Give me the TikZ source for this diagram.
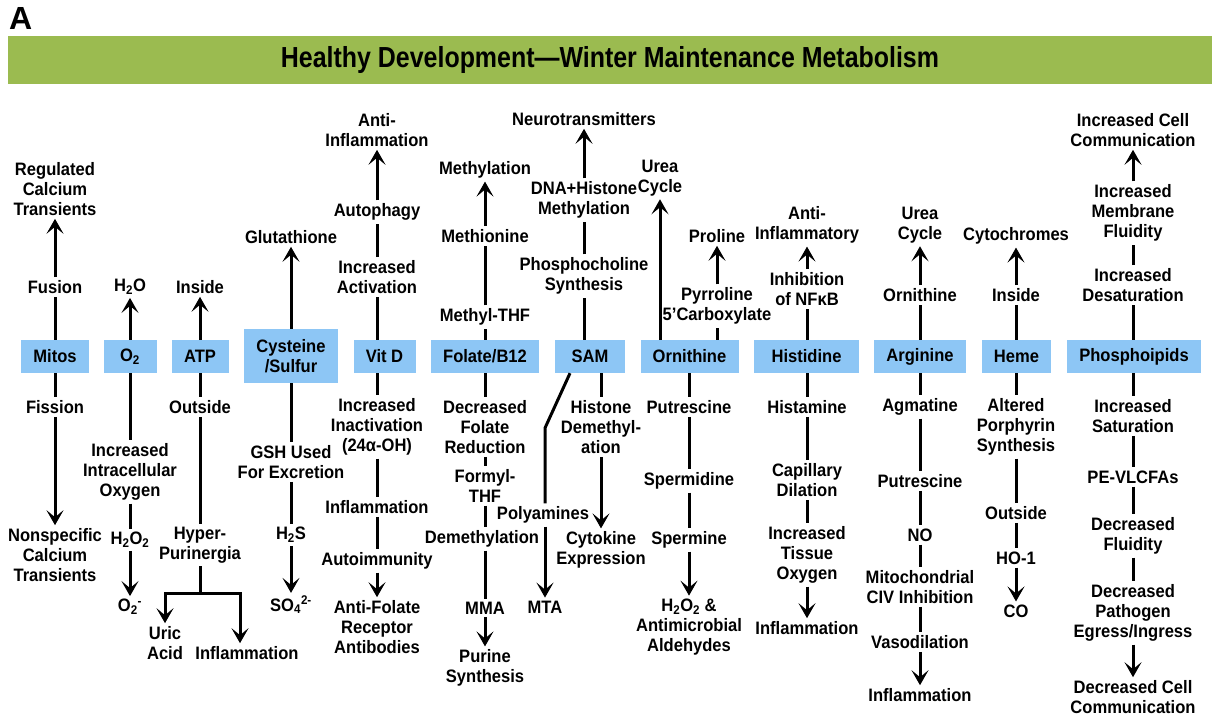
\documentclass[tikz,border=0pt]{standalone}
\usepackage{fontspec}
\setmainfont[FakeStretch=0.92]{Liberation Sans}
\newfontfamily\titlefont[FakeStretch=0.86]{Liberation Sans}
\newfontfamily\plainfont{Liberation Sans}
\usetikzlibrary{arrows.meta,calc}
\definecolor{barg}{RGB}{155,187,80}
\definecolor{boxblue}{RGB}{141,198,245}
\tikzset{
  lbl/.style={font=\fontsize{18}{20}\selectfont\bfseries, align=center, inner xsep=1pt, inner ysep=3pt},
  bx/.style={fill=boxblue, minimum height=33pt, inner sep=0pt, align=center, font=\fontsize{18}{20}\selectfont\bfseries},
  ln/.style={line width=3pt},
  arr/.style={line width=3pt, -{Stealth[length=15pt,width=17pt,inset=7pt]}}
}
\begin{document}
\begin{tikzpicture}[x=1pt,y=-1pt]
\useasboundingbox (0,0) rectangle (1212,719);
\node[font=\fontsize{32}{32}\selectfont\plainfont\bfseries, anchor=base west, inner sep=0pt] (lblA) at (9,30) {A};
\node[fill=barg, minimum width=1204pt, minimum height=48pt, inner sep=0pt, font=\fontsize{29}{30}\selectfont\titlefont\bfseries] (title) at (610,60) {Healthy Development—Winter Maintenance Metabolism};

% Mitos
\node[bx, minimum width=68pt] (mitos) at (55,356.5) {Mitos};
\node[lbl] (fusion) at (55,287) {Fusion};
\node[lbl] (regc) at (55,189) {Regulated\\Calcium\\Transients};
\node[lbl] (fission) at (55,407) {Fission};
\node[lbl] (nonspec) at (55,555) {Nonspecific\\Calcium\\Transients};
\draw[ln] (mitos) -- (fusion); \draw[arr] (fusion) -- (regc);
\draw[ln] (mitos) -- (fission); \draw[arr] (fission) -- (nonspec);

% O2
\node[bx, minimum width=53pt] (o2) at (130,356.5) {O\textsubscript{2}};
\node[lbl] (h2o) at (130,287) {H\textsubscript{2}O};
\node[lbl] (incox) at (130,472) {Increased\\Intracellular\\Oxygen};
\node[lbl] (h2o2) at (130,540) {H\textsubscript{2}O\textsubscript{2}};
\node[lbl] (o2m) at (130,607) {O\textsubscript{2}\textsuperscript{-}};
\draw[arr] (o2) -- (h2o);
\draw[ln] (o2) -- (incox); \draw[ln] (incox) -- (h2o2); \draw[arr] (h2o2) -- (o2m);

% ATP
\node[bx, minimum width=57pt] (atp) at (200,356.5) {ATP};
\node[lbl] (inside) at (200,287) {Inside};
\node[lbl] (outside) at (200,407) {Outside};
\node[lbl] (hyper) at (200,545) {Hyper-\\Purinergia};
\coordinate (fork) at (200,593);
\node[lbl] (uric) at (165,643) {Uric\\Acid};
\node[lbl] (infla) at (247,653) {Inflammation};
\draw[arr] (atp) -- (inside);
\draw[ln] (atp) -- (outside); \draw[ln] (outside) -- (hyper);
\draw[ln] (hyper) -- (fork);
\draw[arr] (fork) -| (uric);
\draw[arr] (fork) -| ([xshift=-7pt]infla.north);

% Cysteine
\node[bx, minimum width=94pt, minimum height=54pt] (cys) at (291,356) {Cysteine\\/Sulfur};
\node[lbl] (glut) at (291,237) {Glutathione};
\node[lbl] (gsh) at (291,462) {GSH Used\\For Excretion};
\node[lbl] (h2s) at (291,535) {H\textsubscript{2}S};
\node[lbl] (so4) at (291,605) {SO\textsubscript{4}\textsuperscript{2-}};
\draw[arr] (cys) -- (glut);
\draw[ln] (cys) -- (gsh); \draw[ln] (gsh) -- (h2s); \draw[arr] (h2s) -- (so4);

% Vit D
\node[bx, minimum width=62pt] (vitd) at (384.5,356.5) {Vit D};
\node[lbl] (antiinf) at (377,130) {Anti-\\Inflammation};
\node[lbl] (autoph) at (377,212) {Autophagy};
\node[lbl] (incact) at (377,277) {Increased\\Activation};
\node[lbl] (incinact) at (377,427) {Increased\\Inactivation\\(24α-OH)};
\node[lbl] (inflb) at (377,507) {Inflammation};
\node[lbl] (autoim) at (377,561) {Autoimmunity};
\node[lbl] (antifol) at (377,627) {Anti-Folate\\Receptor\\Antibodies};
\draw[ln] (incact |- vitd.north) -- (incact); \draw[ln] (incact) -- (autoph); \draw[arr] (autoph) -- (antiinf);
\draw[ln] (incinact |- vitd.south) -- (incinact); \draw[ln] (incinact) -- (inflb); \draw[ln] (inflb) -- (autoim); \draw[arr] (autoim) -- (antifol);

% Folate
\node[bx, minimum width=108pt] (folate) at (485,356.5) {Folate/B12};
\node[lbl] (methyl) at (485,170) {Methylation};
\node[lbl] (methio) at (485,236) {Methionine};
\node[lbl] (mthf) at (485,317) {Methyl-THF};
\node[lbl] (decf) at (485,427) {Decreased\\Folate\\Reduction};
\node[lbl] (formyl) at (485,486) {Formyl-\\THF};
\node[lbl] (demeth) at (482,539) {Demethylation};
\node[lbl] (mma) at (485,608) {MMA};
\node[lbl] (purine) at (485,668) {Purine\\Synthesis};
\draw[ln] (folate) -- (mthf); \draw[ln] (mthf) -- (methio); \draw[arr] (methio) -- (methyl);
\draw[ln] (folate) -- (decf); \draw[ln] (decf) -- (formyl);
\draw[ln] (formyl) -- (formyl |- demeth.north);
\draw[ln] (mma |- demeth.south) -- (mma); \draw[arr] (mma) -- (purine);

% SAM
\node[bx, minimum width=70pt] (sam) at (590,356.5) {SAM};
\node[lbl] (neuro) at (584,119) {Neurotransmitters};
\node[lbl] (dnah) at (584,200) {DNA+Histone\\Methylation};
\node[lbl] (phosch) at (584,276) {Phosphocholine\\Synthesis};
\draw[ln] (phosch |- sam.north) -- (phosch); \draw[ln] (phosch) -- (dnah); \draw[arr] (dnah) -- (neuro);
\coordinate (bend) at (545,428);
\node[lbl] (polyam) at (543,515) {Polyamines};
\node[lbl] (mta) at (545,607) {MTA};
\draw[ln, line join=round] ([xshift=-20pt]sam.south) -- (bend) -- (bend |- polyam.north);
\draw[arr] (mta |- polyam.south) -- (mta);
\node[lbl] (histdem) at (601,427) {Histone\\Demethyl-\\ation};
\node[lbl] (cytok) at (601,550) {Cytokine\\Expression};
\draw[ln] (histdem |- sam.south) -- (histdem); \draw[arr] (histdem) -- (cytok);

% Ornithine
\node[bx, minimum width=98pt] (orn) at (689.5,356.5) {Ornithine};
\node[lbl] (ureac) at (660,178) {Urea\\Cycle};
\node[lbl] (proline) at (717,236) {Proline};
\node[lbl] (pyrr) at (717,306) {Pyrroline\\5’Carboxylate};
\draw[arr] (ureac |- orn.north) -- (ureac);
\draw[ln] (pyrr |- orn.north) -- (pyrr); \draw[arr] (pyrr) -- (proline);
\node[lbl] (putr) at (689,407) {Putrescine};
\node[lbl] (sperd) at (689,481) {Spermidine};
\node[lbl] (sperm) at (689,540) {Spermine};
\node[lbl] (h2o2b) at (689,627) {H\textsubscript{2}O\textsubscript{2} \&\\Antimicrobial\\Aldehydes};
\draw[ln] (putr |- orn.south) -- (putr); \draw[ln] (putr) -- (sperd); \draw[ln] (sperd) -- (sperm); \draw[arr] (sperm) -- (h2o2b);

% Histidine
\node[bx, minimum width=105pt] (his) at (806.5,356.5) {Histidine};
\node[lbl] (antiinfb) at (807,225) {Anti-\\Inflammatory};
\node[lbl] (inhib) at (807,289) {Inhibition\\of NFκB};
\node[lbl] (histam) at (807,407) {Histamine};
\node[lbl] (capil) at (807,480) {Capillary\\Dilation};
\node[lbl] (tissue) at (807,555) {Increased\\Tissue\\Oxygen};
\node[lbl] (inflc) at (807,628) {Inflammation};
\draw[ln] (inhib |- his.north) -- (inhib); \draw[arr] (inhib) -- (antiinfb);
\draw[ln] (histam |- his.south) -- (histam); \draw[ln] (histam) -- (capil); \draw[ln] (capil) -- (tissue); \draw[arr] (tissue) -- (inflc);

% Arginine
\node[bx, minimum width=92pt] (arg) at (920,356.5) {Arginine};
\node[lbl] (ureacb) at (920,225) {Urea\\Cycle};
\node[lbl] (ornit) at (920,295) {Ornithine};
\node[lbl] (agmat) at (920,407) {Agmatine};
\node[lbl] (putrb) at (920,481) {Putrescine};
\node[lbl] (no) at (920,535) {NO};
\node[lbl] (mito) at (920,587) {Mitochondrial\\CIV Inhibition};
\node[lbl] (vaso) at (920,642) {Vasodilation};
\node[lbl] (infld) at (920,695) {Inflammation};
\draw[ln] (arg) -- (ornit); \draw[arr] (ornit) -- (ureacb);
\draw[ln] (arg) -- (agmat); \draw[ln] (agmat) -- (putrb); \draw[ln] (putrb) -- (no); \draw[ln] (no) -- (mito); \draw[ln] (mito) -- (vaso); \draw[arr] (vaso) -- (infld);

% Heme
\node[bx, minimum width=69pt] (heme) at (1016.5,356.5) {Heme};
\node[lbl] (cyto) at (1016,236) {Cytochromes};
\node[lbl] (insideb) at (1016,295) {Inside};
\node[lbl] (alt) at (1016,427) {Altered\\Porphyrin\\Synthesis};
\node[lbl] (outsideb) at (1016,513) {Outside};
\node[lbl] (ho) at (1016,558) {HO-1};
\node[lbl] (co) at (1016,611) {CO};
\draw[ln] (insideb |- heme.north) -- (insideb); \draw[arr] (insideb) -- (cyto);
\draw[ln] (alt |- heme.south) -- (alt); \draw[ln] (alt) -- (outsideb); \draw[ln] (outsideb) -- (ho); \draw[arr] (ho) -- (co);

% Phospholipids
\node[bx, minimum width=134pt] (phos) at (1134,356.5) {Phosphoipids};
\node[lbl] (icc) at (1133,130) {Increased Cell\\Communication};
\node[lbl] (imf) at (1133,213) {Increased\\Membrane\\Fluidity};
\node[lbl] (ides) at (1133,285) {Increased\\Desaturation};
\node[lbl] (isat) at (1133,416) {Increased\\Saturation};
\node[lbl] (pe) at (1133,477) {PE-VLCFAs};
\node[lbl] (dflu) at (1133,536) {Decreased\\Fluidity};
\node[lbl] (dpath) at (1133,613) {Decreased\\Pathogen\\Egress/Ingress};
\node[lbl] (dcc) at (1133,697) {Decreased Cell\\Communication};
\draw[ln] (ides |- phos.north) -- (ides); \draw[ln] (ides) -- (imf); \draw[arr] (imf) -- (icc);
\draw[ln] (isat |- phos.south) -- (isat); \draw[ln] (isat) -- (pe); \draw[ln] (pe) -- (dflu); \draw[ln] (dflu) -- (dpath); \draw[arr] (dpath) -- (dcc);
\end{tikzpicture}
\end{document}
